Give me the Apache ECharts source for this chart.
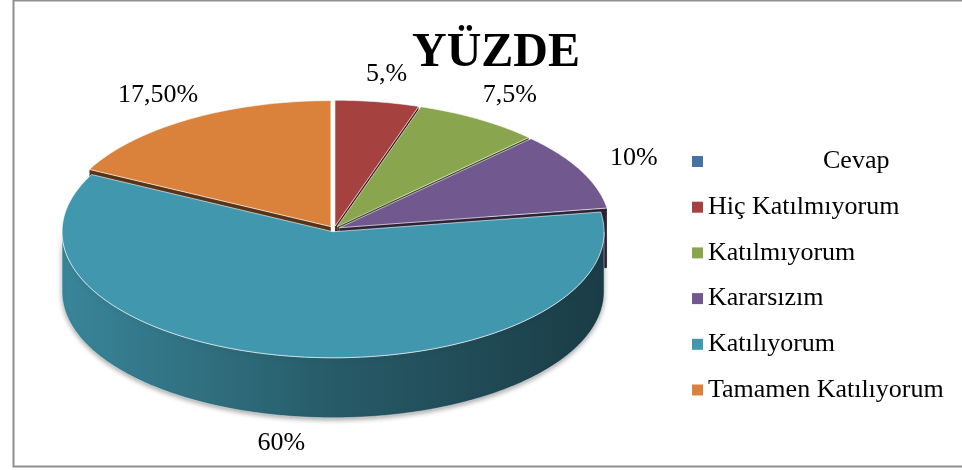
<!DOCTYPE html>
<html>
<head>
<meta charset="utf-8">
<script src="https://cdn.jsdelivr.net/npm/echarts@6/dist/echarts.min.js"></script>
<style>
  html, body { margin: 0; padding: 0; background: #fff; }
  #chart { width: 962px; height: 470px; }
</style>
</head>
<body>
<div id="chart"></div>
<script>
// answers and their share (%), as printed on the chart
const categories = ['Cevap', 'Hiç Katılmıyorum', 'Katılmıyorum', 'Kararsızım', 'Katılıyorum', 'Tamamen Katılıyorum']
const percents = [0, 5, 7.5, 10, 60, 17.5]
const labelTexts = ['', '5,%', '7,5%', '10%', '60%', '17,50%']
const colors = ['#4572A7', '#A5413E', '#89A54E', '#71588F', '#4197AE', '#DA823C']

// 3d pie layout (px)
const CX = 334, CY = 229, RX = 271, RY = 126, DEPTH = 60, EXPLODE = 6
const FONT = 'Liberation Serif'

function shade(hex, k) {
  const n = parseInt(hex.slice(1), 16)
  const r = Math.round(((n >> 16) & 255) * k)
  const g = Math.round(((n >> 8) & 255) * k)
  const b = Math.round((n & 255) * k)
  return 'rgb(' + r + ',' + g + ',' + b + ')'
}

function pt(deg, r, dz, off) {
  const a = deg * Math.PI / 180
  return [CX + off[0] + RX * r * Math.sin(a), CY + off[1] - RY * r * Math.cos(a) + dz]
}

function arc(from, to, dz, off) {
  const pts = []
  const steps = Math.max(2, Math.ceil(Math.abs(to - from)))
  for (let s = 0; s <= steps; s++) pts.push(pt(from + (to - from) * s / steps, 1, dz, off))
  return pts
}

const total = percents.reduce((s, x) => s + x, 0)

function renderSlice(params, api) {
  const i = params.dataIndex
  const v = api.value(0)
  if (!v) return
  const start = percents.slice(0, i).reduce((s, x) => s + x, 0) / total * 360
  const end = start + v / total * 360
  const mid = (start + end) / 2
  const m = mid * Math.PI / 180
  const off = [EXPLODE * Math.sin(m), -EXPLODE * Math.cos(m) * RY / RX]
  const c = colors[i]
  const center = [CX + off[0], CY + off[1]]
  const children = []

  // radial walls facing the viewer
  const walls = []
  if (Math.sin(start * Math.PI / 180) < 0) walls.push(start)
  if (Math.sin(end * Math.PI / 180) > 0) walls.push(end)
  walls.forEach(a => {
    const p = pt(a, 1, 0, off)
    children.push({
      type: 'polygon', z2: 1,
      shape: { points: [center, p, [p[0], p[1] + DEPTH], [center[0], center[1] + DEPTH]] },
      style: { fill: shade(c, 0.4), stroke: 'rgba(255,255,255,0.35)', lineWidth: 0.6 }
    })
  })

  // outer wall, front half only
  const f0 = Math.max(start, 90), f1 = Math.min(end, 270)
  if (f1 > f0) {
    const top = arc(f0, f1, 0, off)
    const bottom = arc(f0, f1, DEPTH, off).reverse()
    children.push({
      type: 'polygon', z2: 2,
      shape: { points: top.concat(bottom) },
      style: {
        fill: new echarts.graphic.LinearGradient(CX - RX, 0, CX + RX, 0, [
          { offset: 0, color: shade(c, 0.88) },
          { offset: 0.5, color: shade(c, 0.6) },
          { offset: 1, color: shade(c, 0.4) }
        ], true),
        stroke: 'rgba(255,255,255,0.5)', lineWidth: 0.8,
        shadowColor: 'rgba(0,0,0,0.35)', shadowBlur: 5, shadowOffsetY: 2
      }
    })
  }

  // top face
  children.push({
    type: 'polygon', z2: 3,
    shape: { points: [center].concat(arc(start, end, 0, off)) },
    style: { fill: c, stroke: 'rgba(255,255,255,0.6)', lineWidth: 1 }
  })

  // value label
  const front = Math.cos(m) < 0
  const lp = pt(mid, 1.22, front ? DEPTH : 0, off)
  children.push({
    type: 'text', z2: 4,
    x: lp[0], y: lp[1],
    style: {
      text: labelTexts[i], fontFamily: FONT, fontSize: 26, fill: '#000',
      align: 'center', verticalAlign: 'middle'
    }
  })

  return { type: 'group', children: children }
}

const chart = echarts.init(document.getElementById('chart'))
chart.setOption({
  backgroundColor: '#fff',
  animation: false,
  color: colors,
  title: {
    text: 'YÜZDE',
    left: 407,
    top: 25,
    textStyle: { fontFamily: FONT, fontSize: 48, fontWeight: 'bold', color: '#000' }
  },
  legend: {
    orient: 'vertical',
    left: 687,
    top: 143,
    icon: 'rect',
    itemWidth: 11,
    itemHeight: 11,
    itemGap: 18.7,
    data: categories,
    selectedMode: false,
    textStyle: {
      fontFamily: FONT, fontSize: 26, color: '#000', lineHeight: 27,
      rich: { pad: { fontFamily: FONT, fontSize: 26, color: '#000', lineHeight: 27, padding: [0, 0, 0, 115] } }
    },
    formatter: name => (name === 'Cevap' ? '{pad|Cevap}' : name)
  },
  graphic: [{
    type: 'rect', silent: true, z: -1,
    shape: { x: 13.5, y: 0.5, width: 960, height: 466 },
    style: { fill: null, stroke: '#8f8f8f', lineWidth: 2 }
  }],
  series: [
    {
      // only feeds the legend
      type: 'pie',
      name: 'YÜZDE',
      radius: [0, 0],
      silent: true,
      label: { show: false },
      labelLine: { show: false },
      data: categories.map((n, i) => ({ name: n, value: percents[i] }))
    },
    {
      type: 'custom',
      name: 'YÜZDE 3D',
      coordinateSystem: 'none',
      silent: true,
      renderItem: renderSlice,
      data: percents
    }
  ]
})
</script>
</body>
</html>
